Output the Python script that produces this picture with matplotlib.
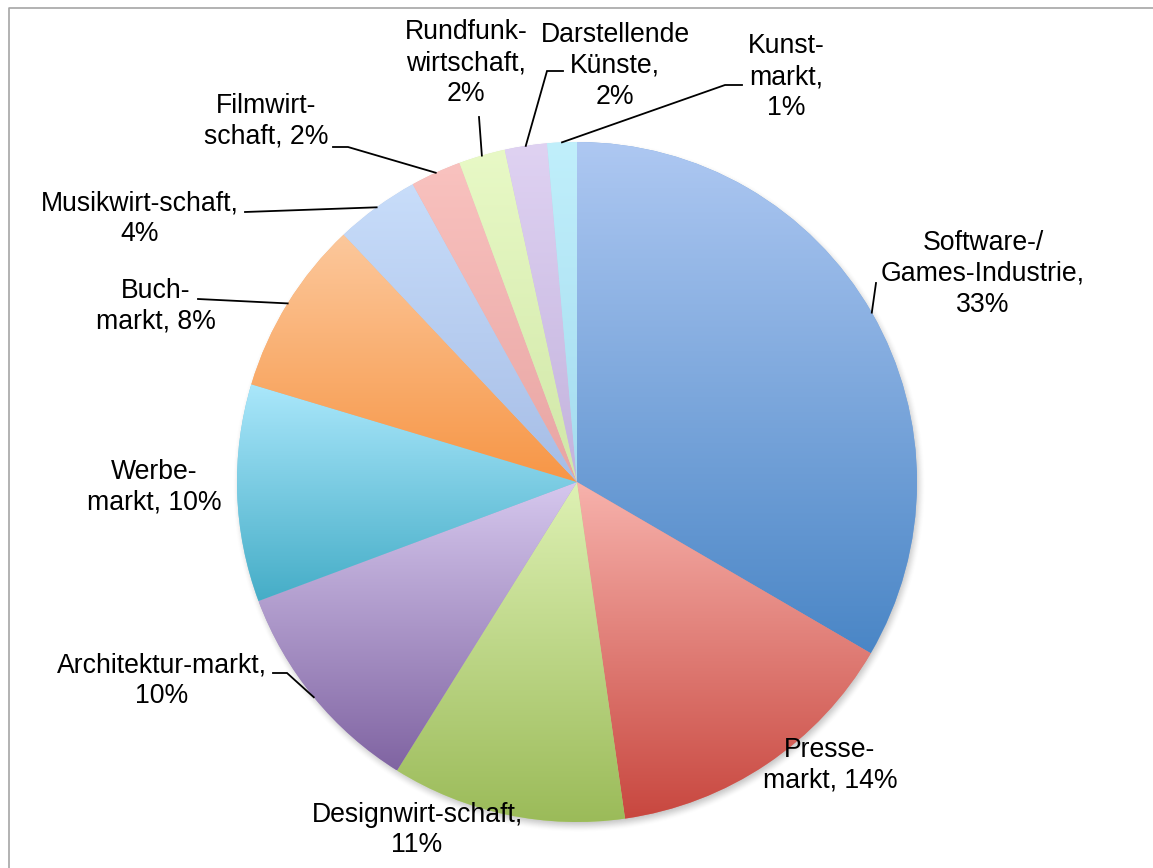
import numpy as np
import matplotlib
matplotlib.use("Agg")
import matplotlib.pyplot as plt
from matplotlib.colors import LinearSegmentedColormap, to_rgb

# ---------------- data ----------------
categories = ["Software-/\nGames-Industrie", "Presse-\nmarkt", "Designwirt-schaft",
              "Architektur-markt", "Werbe-\nmarkt", "Buch-\nmarkt", "Musikwirt-schaft",
              "Filmwirt-\nschaft", "Rundfunk-\nwirtschaft", "Darstellende\nKünste",
              "Kunst-\nmarkt"]
values = [33.3, 14.3, 11.1, 10.4, 10.3, 8.3, 4.0, 2.4, 2.2, 2.0, 1.4]
label_seps = ["\n", " ", "\n", "\n", " ", " ", "\n", " ", "\n", "\n", "\n"]

# ---------------- style ----------------
grad_colors = [("#aec8f2", "#4a86c6"), ("#f7b2ac", "#c8473f"), ("#def1b4", "#9bbb59"),
               ("#d6c8ee", "#8064a2"), ("#aae7fb", "#45adc7"), ("#fcc89c", "#f79646"),
               ("#c8ddfa", "#a6bde6"), ("#f9c2bf", "#e8a5a3"), ("#e8f9c6", "#d1e7a8"),
               ("#dfd2f2", "#c3b3dd"), ("#c0effb", "#a5dcef")]

W, H = 1153, 868
CX, CY, R = 577, 482, 340


def P(px, py):
    return (px - CX) / R, (CY - py) / R


# label block centres (pixels)
label_pos = [(983, 274), (830, 765), (417, 830), (162, 681), (154, 487), (156, 306),
             (140, 219), (266, 121), (466, 63), (615, 66), (786, 77)]
# leader-line elbows (pixels), from wedge outward
leaders = [[(876, 283)], None, None, [(287, 673), (273, 673)], None, [(198, 299)],
           [(245, 212)], [(348, 147), (333, 147)], [(479, 117)], [(547, 71), (563, 71)],
           [(725, 85), (742, 85)]]

fig = plt.figure(figsize=(W / 100, H / 100), dpi=100)
fig.patch.set_facecolor("white")
ax = fig.add_axes([0, 0, 1, 1])
ax.axis("off")

wedges, _ = ax.pie(values, startangle=90, counterclock=False, radius=1, center=(0, 0),
                   wedgeprops=dict(linewidth=0))

# soft shadow
n = 700
gx = np.linspace(-1.1, 1.1, n)
gy = np.linspace(-1.1, 1.1, n)
XX, YY = np.meshgrid(gx, gy)
d = np.hypot(XX - 2 / R, YY + 4 / R)
b = 7 / R
t = np.clip((1 + b - d) / (2 * b), 0, 1)
alpha = 0.45 * t * t * (3 - 2 * t)
shadow = np.zeros((n, n, 4))
shadow[..., :3] = 0.45
shadow[..., 3] = alpha
ax.imshow(shadow, extent=[-1.1, 1.1, -1.1, 1.1], origin="lower", zorder=0.5,
          interpolation="bilinear")

for w, (ctop, cbot) in zip(wedges, grad_colors):
    t1, t2 = np.deg2rad(w.theta1), np.deg2rad(w.theta2)
    ts = np.linspace(t1, t2, 300)
    xs = np.concatenate([[0], np.cos(ts)])
    ys = np.concatenate([[0], np.sin(ts)])
    cmap = LinearSegmentedColormap.from_list("g", [cbot, ctop])
    grad = np.linspace(0, 1, 256).reshape(-1, 1)
    mid = np.array(to_rgb(ctop)) * 0.5 + np.array(to_rgb(cbot)) * 0.5
    w.set_facecolor(mid)
    w.set_zorder(1)
    im = ax.imshow(grad, cmap=cmap, extent=[xs.min(), xs.max(), ys.min(), ys.max()],
                   origin="lower", aspect="auto", interpolation="bilinear", zorder=2)
    im.set_clip_path(w)

total = sum(values)
for i, (cat, v, sep) in enumerate(zip(categories, values, label_seps)):
    pct = int(round(v / total * 100))
    txt = f"{cat},{sep}{pct}%"
    lx, ly = P(*label_pos[i])
    ax.text(lx, ly, txt, ha="center", va="center", fontsize=19.2,
            family=["Liberation Sans", "DejaVu Sans"], linespacing=1.24,
            multialignment="center", zorder=5)
    if leaders[i]:
        w = wedges[i]
        m = np.deg2rad((w.theta1 + w.theta2) / 2)
        pts = [(np.cos(m), np.sin(m))] + [P(*p) for p in leaders[i]]
        ax.plot([p[0] for p in pts], [p[1] for p in pts], color="black", lw=1.3,
                zorder=4, solid_joinstyle="miter")

# chart border (partly outside the image)
bx = [P(9, 868)[0], P(9, 8)[0], P(1153, 8)[0]]
by = [P(9, 868)[1], P(9, 8)[1], P(1153, 8)[1]]
ax.plot(bx, by, color="#a6a6a6", lw=1.2, zorder=6, clip_on=False)

ax.set_aspect("auto")
ax.set_xlim(-CX / R, (W - CX) / R)
ax.set_ylim(-(H - CY) / R, CY / R)

fig.savefig("out.png", dpi=100, facecolor="white")
